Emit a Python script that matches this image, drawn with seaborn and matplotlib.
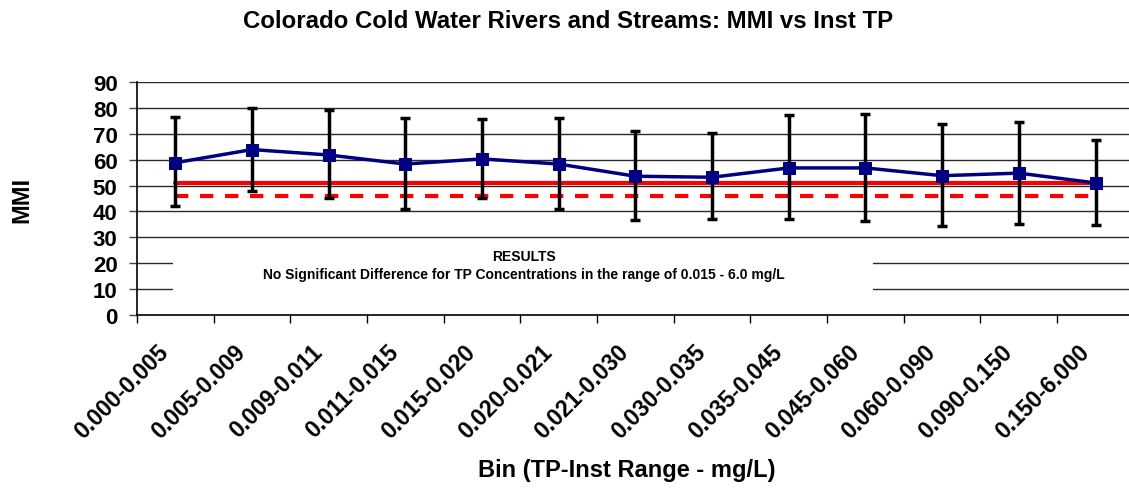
import numpy as np
import pandas as pd
import matplotlib
matplotlib.use("Agg")
import matplotlib.pyplot as plt
import matplotlib.transforms as mtransforms
import seaborn as sns
from matplotlib.patches import Rectangle

# TP-Inst concentration bins (mg/L)
bins = ["0.000-0.005", "0.005-0.009", "0.009-0.011", "0.011-0.015",
        "0.015-0.020", "0.020-0.021", "0.021-0.030", "0.030-0.035",
        "0.035-0.045", "0.045-0.060", "0.060-0.090", "0.090-0.150",
        "0.150-6.000"]
# mean MMI per bin and the extent of its error bar
mmi_mean = [58.8, 63.9, 61.8, 58.3, 60.3, 58.3, 53.6, 53.2, 56.8, 56.8, 53.8, 54.8, 51.0]
mmi_upper = [76.3, 79.8, 79.0, 76.0, 75.7, 76.1, 70.9, 70.3, 77.2, 77.6, 73.8, 74.4, 67.6]
mmi_lower = [42.0, 48.0, 45.0, 40.8, 45.0, 40.8, 36.7, 37.0, 37.1, 36.2, 34.3, 35.3, 34.8]
# reference thresholds
threshold_solid = 51.0
threshold_dashed = 46.0
y_ticks = [0, 10, 20, 30, 40, 50, 60, 70, 80, 90]

sns.set_theme(style="white")
plt.rcParams["font.family"] = ["Liberation Sans", "DejaVu Sans"]
plt.rcParams["font.weight"] = "bold"
for key in ["text.color", "axes.labelcolor", "xtick.color", "ytick.color"]:
    plt.rcParams[key] = "black"

df = pd.DataFrame({"pos": np.arange(len(bins)), "bin": bins, "mmi": mmi_mean})

fig = plt.figure(figsize=(11.29, 4.89), dpi=100)
ax = fig.add_axes([0.1213, 0.3538, 0.883, 0.4765])
ax.set_xlim(-0.5, len(bins) - 0.5)
ax.set_ylim(0, 90)

# horizontal gridlines
for v in y_ticks[1:]:
    ax.axhline(v, color="#2a2a2a", lw=1.0, zorder=1)

# white results box covering part of the grid
ax.add_patch(Rectangle((-0.03, 8.0), 9.13, 19.0, facecolor="white",
                       edgecolor="none", zorder=1.5))
ax.text(4.55, 22.8, "RESULTS", ha="center", va="center", fontsize=10,
        fontweight="bold", zorder=2)
ax.text(4.55, 16.0,
        "No Significant Difference for TP Concentrations in the range of 0.015 - 6.0 mg/L",
        ha="center", va="center", fontsize=10, fontweight="bold", zorder=2)

# threshold lines
ax.plot([0, len(bins) - 1], [threshold_solid] * 2, color="red", lw=3.0, zorder=2.5)
ax.plot([0, len(bins) - 1], [threshold_dashed] * 2, color="red", lw=3.0,
        dashes=(3.2, 2.8), zorder=2.5)

# error bars
means = np.array(mmi_mean)
yerr = np.vstack([means - np.array(mmi_lower), np.array(mmi_upper) - means])
ax.errorbar(df["pos"], means, yerr=yerr, fmt="none", ecolor="black",
            elinewidth=2.5, capsize=3.5, capthick=2.5, zorder=3)

# mean MMI line
sns.lineplot(data=df, x="pos", y="mmi", ax=ax, color="#000080", lw=2.5,
             marker="s", markersize=9, markeredgecolor="#000080", zorder=4)

# axes styling
for side in ["top", "right"]:
    ax.spines[side].set_visible(False)
for side in ["left", "bottom"]:
    ax.spines[side].set_color("black")
    ax.spines[side].set_linewidth(1.2)

ax.set_yticks(y_ticks)
ax.set_yticklabels([str(v) for v in y_ticks], fontsize=16, fontweight="bold")
ax.tick_params(axis="y", direction="out", length=6, width=1, color="#444444",
               pad=8, left=True)

ax.set_xticks(np.arange(len(bins)))
ax.set_xticklabels(bins, rotation=45, ha="right", va="center",
                   rotation_mode="anchor", fontsize=16.5, fontweight="bold")
ax.tick_params(axis="x", which="major", length=0, pad=24)
shift = mtransforms.ScaledTranslation(-10 / 100, 0, fig.dpi_scale_trans)
for lbl in ax.get_xticklabels():
    lbl.set_transform(lbl.get_transform() + shift)
ax.set_xticks(np.arange(len(bins) + 1) - 0.5, minor=True)
ax.tick_params(axis="x", which="minor", direction="out", length=6, width=1,
               color="black", bottom=True)

ax.set_xlabel("Bin (TP-Inst Range - mg/L)", fontsize=17, fontweight="bold",
              va="center")
ax.xaxis.set_label_coords(0.491, -0.661)
ax.set_ylabel("MMI", fontsize=17, fontweight="bold", va="center")
ax.yaxis.set_label_coords(-0.115, 0.498)

fig.suptitle("Colorado Cold Water Rivers and Streams: MMI vs Inst TP",
             x=0.503, y=0.957, va="center", fontsize=17.3, fontweight="bold")

fig.savefig("out.png", dpi=100)
